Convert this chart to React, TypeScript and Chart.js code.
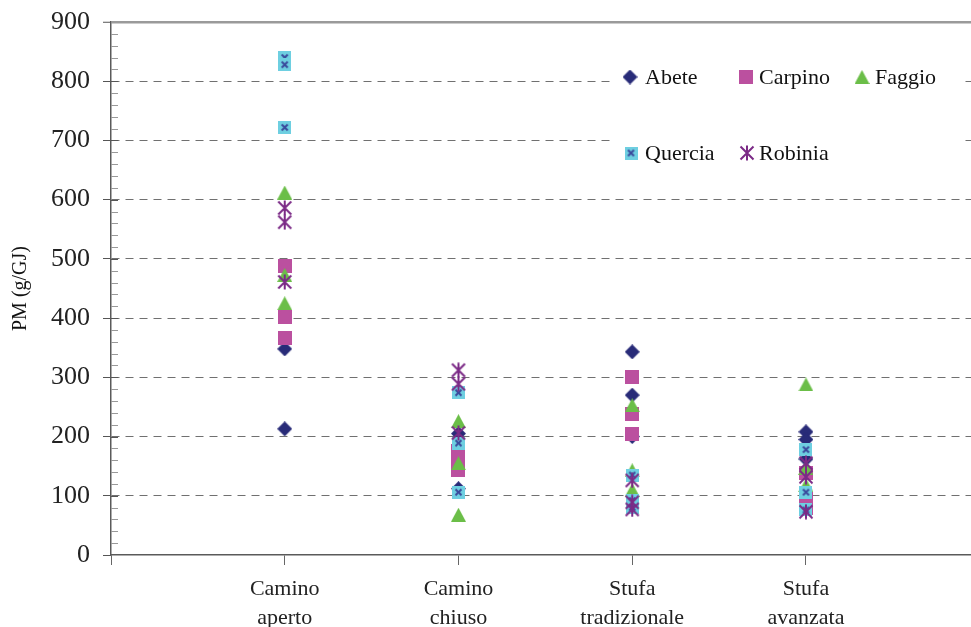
import React, { useEffect, useRef } from 'react';
import { Chart, registerables } from 'chart.js';

Chart.register(...registerables);

const categoryLines: string[][] = [
  ['Camino', 'aperto'],
  ['Camino', 'chiuso'],
  ['Stufa', 'tradizionale'],
  ['Stufa', 'avanzata'],
];

const seriesNames = ['Abete', 'Carpino', 'Faggio', 'Quercia', 'Robinia'];

// values per category (Camino aperto, Camino chiuso, Stufa tradizionale, Stufa avanzata)
const abete: number[][] = [[348, 213], [112, 205], [343, 270, 200], [208, 195, 162]];
const carpino: number[][] = [[488, 402, 366], [175, 160, 143], [301, 238, 204], [138, 95, 80]];
const faggio: number[][] = [[612, 473, 425], [226, 155, 68], [253, 143, 110], [288, 147, 118]];
const quercia: number[][] = [[840, 828, 722], [274, 189, 106], [135, 92, 80], [178, 106, 76]];
const robinia: number[][] = [[586, 562, 461], [312, 289, 206], [126, 89, 77], [155, 132, 73]];

const yMin = 0;
const yMax = 900;
const yStep = 100;
const yMinorStep = 20;

const FONT = "'Liberation Serif', 'Times New Roman', serif";

function makeCanvas(w: number, h: number) {
  const c = document.createElement('canvas');
  c.width = w;
  c.height = h;
  return c;
}

function makeMarker(kind: string): HTMLCanvasElement {
  if (kind === 'Abete') {
    const c = makeCanvas(15, 15);
    const g = c.getContext('2d')!;
    g.fillStyle = '#282B78';
    g.beginPath();
    g.moveTo(7.5, 0);
    g.lineTo(15, 7.5);
    g.lineTo(7.5, 15);
    g.lineTo(0, 7.5);
    g.closePath();
    g.fill();
    return c;
  }
  if (kind === 'Carpino') {
    const c = makeCanvas(14, 14);
    const g = c.getContext('2d')!;
    g.fillStyle = '#BB509F';
    g.fillRect(0, 0, 14, 14);
    return c;
  }
  if (kind === 'Faggio') {
    const c = makeCanvas(15, 14);
    const g = c.getContext('2d')!;
    g.fillStyle = '#6BBE48';
    g.beginPath();
    g.moveTo(7.5, 0);
    g.lineTo(15, 14);
    g.lineTo(0, 14);
    g.closePath();
    g.fill();
    return c;
  }
  if (kind === 'Quercia') {
    const c = makeCanvas(13, 13);
    const g = c.getContext('2d')!;
    g.fillStyle = '#6ECFE1';
    g.fillRect(0, 0, 13, 13);
    g.strokeStyle = '#3A4A9C';
    g.lineWidth = 2;
    g.beginPath();
    g.moveTo(3.5, 3.5);
    g.lineTo(9.5, 9.5);
    g.moveTo(9.5, 3.5);
    g.lineTo(3.5, 9.5);
    g.stroke();
    return c;
  }
  // Robinia asterisk
  const c = makeCanvas(16, 16);
  const g = c.getContext('2d')!;
  g.strokeStyle = '#7B2A86';
  g.lineWidth = 2;
  g.beginPath();
  g.moveTo(8, 0.5);
  g.lineTo(8, 15.5);
  g.moveTo(1.5, 1.5);
  g.lineTo(14.5, 14.5);
  g.moveTo(14.5, 1.5);
  g.lineTo(1.5, 14.5);
  g.stroke();
  return c;
}

function toPoints(values: number[][]) {
  const pts: { x: number; y: number }[] = [];
  values.forEach((vals, i) => vals.forEach((v) => pts.push({ x: i + 1, y: v })));
  return pts;
}

export default function App() {
  const ref = useRef<HTMLCanvasElement | null>(null);

  useEffect(() => {
    document.body.style.margin = '0';
    document.body.style.overflow = 'hidden';
    const canvas = ref.current;
    if (!canvas) return;

    const allValues = [abete, carpino, faggio, quercia, robinia];
    const markers = seriesNames.map((n) => makeMarker(n));

    const datasets = seriesNames.map((name, i) => ({
      label: name,
      data: toPoints(allValues[i]),
      pointStyle: markers[i] as any,
      pointRadius: 8,
      pointHoverRadius: 8,
      showLine: false,
      order: seriesNames.length - i,
    }));

    const minorTicks = {
      id: 'minorTicks',
      afterDraw(chart: any) {
        const ctx = chart.ctx;
        const y = chart.scales.y;
        const x0 = chart.chartArea.left;
        ctx.save();
        ctx.lineWidth = 1;
        for (let v = yMin + yMinorStep; v < yMax; v += yMinorStep) {
          const py = Math.round(y.getPixelForValue(v)) + 0.5;
          ctx.strokeStyle = v % yStep === 0 ? '#555' : '#999';
          ctx.beginPath();
          ctx.moveTo(x0, py);
          ctx.lineTo(x0 + 7, py);
          ctx.stroke();
        }
        ctx.restore();
      },
    };

    const legendBox = {
      id: 'legendBox',
      afterDraw(chart: any) {
        const ctx = chart.ctx;
        ctx.save();
        ctx.fillStyle = '#ffffff';
        ctx.fillRect(614, 46, 347, 136);
        const items = [
          { m: 0, x: 630, y: 77, tx: 645 },
          { m: 1, x: 746, y: 77, tx: 759 },
          { m: 2, x: 862, y: 77, tx: 875 },
          { m: 3, x: 631, y: 153, tx: 645 },
          { m: 4, x: 747, y: 153, tx: 759 },
        ];
        ctx.font = `22px ${FONT}`;
        ctx.fillStyle = '#111';
        ctx.textBaseline = 'middle';
        ctx.textAlign = 'left';
        items.forEach((it) => {
          const img = markers[it.m];
          ctx.drawImage(img, it.x - img.width / 2, it.y - img.height / 2);
          ctx.fillText(seriesNames[it.m], it.tx, it.y + 1);
        });
        ctx.restore();
      },
    };

    const chart = new Chart(canvas, {
      type: 'scatter',
      data: { datasets: datasets as any },
      options: {
        animation: false,
        responsive: true,
        maintainAspectRatio: false,
        layout: { autoPadding: false, padding: { top: 22, right: 0, bottom: 0, left: 0 } },
        plugins: {
          legend: { display: false },
          tooltip: { enabled: false },
        },
        scales: {
          x: {
            type: 'linear',
            min: 0,
            max: 4.95,
            afterBuildTicks: (scale: any) => {
              scale.ticks = [0, 1, 2, 3, 4].map((v) => ({ value: v }));
            },
            afterFit: (scale: any) => {
              scale.height = 72;
              scale.paddingRight = 0;
              scale.paddingLeft = 0;
            },
            ticks: {
              autoSkip: false,
              maxRotation: 0,
              padding: 9,
              color: '#222',
              font: { family: FONT, size: 22, lineHeight: 1.35 },
              callback: (v: any) => {
                const i = Math.round(Number(v)) - 1;
                return i >= 0 && i < categoryLines.length ? categoryLines[i] : '';
              },
            },
            grid: {
              drawOnChartArea: false,
              drawTicks: true,
              tickLength: 10,
              tickColor: '#666',
              tickWidth: 1,
            },
            border: { display: true, color: '#5a5a5a', width: 1.5 },
          },
          y: {
            min: yMin,
            max: yMax,
            afterFit: (scale: any) => {
              scale.width = 111;
              scale.paddingTop = 0;
              scale.paddingBottom = 0;
            },
            ticks: {
              stepSize: yStep,
              padding: 13,
              color: '#222',
              font: { family: FONT, size: 26 },
            },
            title: {
              display: true,
              text: 'PM (g/GJ)',
              color: '#111',
              font: { family: FONT, size: 20 },
              padding: { top: 9, bottom: 0 },
            },
            grid: {
              color: (c: any) => {
                const v = c.tick ? c.tick.value : null;
                if (v === yMin) return 'rgba(0,0,0,0)';
                if (v === yMax) return '#9a9a9a';
                return '#707070';
              },
              lineWidth: (c: any) => (c.tick && c.tick.value === yMax ? 2.5 : 1),
              drawTicks: true,
              tickLength: 8,
              tickColor: '#555',
              tickWidth: 1,
            },
            border: {
              display: true,
              color: '#5a5a5a',
              width: 1.5,
              dash: (c: any) => (c.tick && c.tick.value !== yMax ? [8, 6] : []),
            } as any,
          },
        },
      },
      plugins: [minorTicks, legendBox],
    });

    return () => {
      chart.destroy();
    };
  }, []);

  return (
    <div style={{ position: 'relative', width: '971px', height: '627px', background: '#fff' }}>
      <canvas ref={ref} />
    </div>
  );
}
